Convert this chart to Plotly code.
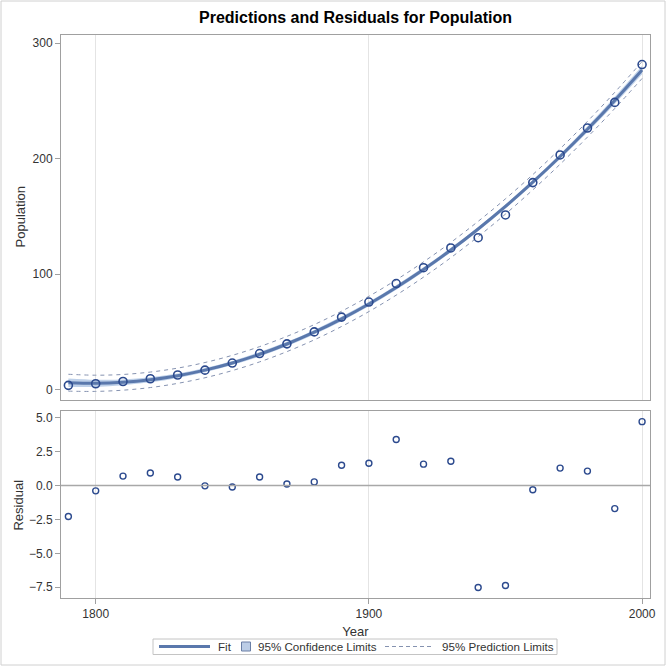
import plotly.graph_objects as go

years = [1790, 1800, 1810, 1820, 1830, 1840, 1850, 1860, 1870, 1880, 1890,
         1900, 1910, 1920, 1930, 1940, 1950, 1960, 1970, 1980, 1990, 2000]
population = [3.929, 5.308, 7.239, 9.638, 12.866, 17.069, 23.191, 31.443, 39.818, 50.155, 62.947,
              75.994, 91.972, 105.710, 122.775, 131.669, 151.325, 179.323, 203.211, 226.542, 248.710, 281.422]
residuals = [-2.28, -0.39, 0.70, 0.93, 0.63, -0.02, -0.10, 0.63, 0.12, 0.27, 1.50,
             1.65, 3.40, 1.58, 1.80, -7.53, -7.38, -0.31, 1.29, 1.07, -1.70, 4.72]
cl_half = [3.7, 3.1, 2.5, 2.2, 1.9, 1.8, 1.8, 1.9, 1.9, 2.0, 2.0,
           2.0, 2.0, 1.9, 1.9, 1.8, 1.8, 1.9, 2.2, 2.5, 3.1, 3.7]
pl_half = [7.3, 7.0, 6.8, 6.7, 6.6, 6.6, 6.6, 6.6, 6.6, 6.6, 6.6,
           6.6, 6.6, 6.6, 6.6, 6.6, 6.6, 6.6, 6.7, 6.8, 7.0, 7.3]
legend_labels = ["Fit", "95% Confidence Limits", "95% Prediction Limits"]

fit = [p - r for p, r in zip(population, residuals)]
cl_lo = [f - h for f, h in zip(fit, cl_half)]
cl_hi = [f + h for f, h in zip(fit, cl_half)]
pl_lo = [f - h for f, h in zip(fit, pl_half)]
pl_hi = [f + h for f, h in zip(fit, pl_half)]

FIT_C = "#5A78AC"
MARK_C = "#2C4A8E"
BAND_C = "rgba(170,193,226,0.75)"
PL_C = "#8592B0"
AX_C = "#A0A0A0"
FONT = "Liberation Sans, Arial, sans-serif"

# plot-area geometry (pixels in the 666x666 page)
L, R, T, B = 61, 16, 35, 68
PW, PH = 666 - L - R, 666 - T - B


def px(x):
    return (x - L) / PW


def py(y):
    return (666 - B - y) / PH


fig = go.Figure()
fig.add_trace(go.Scatter(x=years, y=cl_lo, mode="lines", line=dict(width=0, shape="spline"),
                         showlegend=False, hoverinfo="skip", xaxis="x", yaxis="y"))
fig.add_trace(go.Scatter(x=years, y=cl_hi, mode="lines", line=dict(width=0, shape="spline"),
                         fill="tonexty", fillcolor=BAND_C, showlegend=False,
                         xaxis="x", yaxis="y"))
fig.add_trace(go.Scatter(x=years, y=pl_lo, mode="lines",
                         line=dict(color=PL_C, width=1, dash="4px,4px", shape="spline"),
                         showlegend=False, xaxis="x", yaxis="y"))
fig.add_trace(go.Scatter(x=years, y=pl_hi, mode="lines",
                         line=dict(color=PL_C, width=1, dash="4px,4px", shape="spline"),
                         showlegend=False, xaxis="x", yaxis="y"))
fig.add_trace(go.Scatter(x=years, y=fit, mode="lines",
                         line=dict(color=FIT_C, width=3, shape="spline"),
                         showlegend=False, xaxis="x", yaxis="y"))
fig.add_trace(go.Scatter(x=years, y=population, mode="markers",
                         marker=dict(symbol="circle-open", size=8, color=MARK_C, line=dict(width=1.6)),
                         showlegend=False, xaxis="x", yaxis="y"))
fig.add_trace(go.Scatter(x=years, y=residuals, mode="markers",
                         marker=dict(symbol="circle-open", size=6, color=MARK_C, line=dict(width=1.4)),
                         showlegend=False, xaxis="x2", yaxis="y2"))

xrange = [1787.3, 2002.9]
common_x = dict(range=xrange, showgrid=True, gridcolor="#E4E4E4", gridwidth=1,
                tickvals=[1800, 1900, 2000], zeroline=False, showline=True, linecolor=AX_C,
                mirror=True, ticklen=5, tickcolor=AX_C, automargin=False,
                tickfont=dict(size=12, color="#333333", family=FONT))
common_y = dict(showgrid=False, zeroline=False, showline=True, linecolor=AX_C, mirror=True,
                ticks="outside", ticklen=5, tickcolor=AX_C, automargin=False,
                tickfont=dict(size=12, color="#333333", family=FONT))

# hand-built legend (SAS style)
ly = 646.5
shapes = [
    dict(type="line", xref="x2", yref="y2", x0=xrange[0], x1=xrange[1], y0=0, y1=0,
         line=dict(color="#A8A8A8", width=1.5)),
    dict(type="rect", xref="paper", yref="paper", x0=px(1), x1=px(665), y0=py(665), y1=py(1),
         line=dict(color="#D0D0D0", width=1), layer="below"),
    dict(type="rect", xref="paper", yref="paper", x0=px(153), x1=px(557), y0=py(654.5), y1=py(639),
         line=dict(color="#C4C4C4", width=1), fillcolor="white"),
    dict(type="line", xref="paper", yref="paper", x0=px(159), x1=px(210), y0=py(ly), y1=py(ly),
         line=dict(color=FIT_C, width=3)),
    dict(type="rect", xref="paper", yref="paper", x0=px(241.5), x1=px(250.5), y0=py(651), y1=py(642),
         line=dict(color="#6A7FA6", width=1), fillcolor="#BCCDE6"),
    dict(type="line", xref="paper", yref="paper", x0=px(385), x1=px(434), y0=py(ly), y1=py(ly),
         line=dict(color=PL_C, width=1, dash="4px,3px")),
]
annotations = [
    dict(text=legend_labels[0], x=px(216), y=py(ly), xanchor="left"),
    dict(text=legend_labels[1], x=px(256), y=py(ly), xanchor="left"),
    dict(text=legend_labels[2], x=px(440), y=py(ly), xanchor="left"),
]
for a in annotations:
    a.update(xref="paper", yref="paper", yanchor="middle", showarrow=False,
             font=dict(size=11.6, family=FONT, color="#333333"))
annotations += [
    dict(text="Population", x=px(20), y=(0.352 + 1) / 2, xref="paper", yref="paper",
         textangle=-90, showarrow=False, xanchor="center", yanchor="middle",
         font=dict(size=13, family=FONT, color="#333333")),
    dict(text="Residual", x=px(19), y=0.332 / 2, xref="paper", yref="paper",
         textangle=-90, showarrow=False, xanchor="center", yanchor="middle",
         font=dict(size=13, family=FONT, color="#333333")),
]

fig.update_layout(
    width=666, height=666,
    paper_bgcolor="white", plot_bgcolor="white",
    margin=dict(l=L, r=R, t=T, b=B, autoexpand=False),
    font=dict(family=FONT, color="#333333"),
    showlegend=False,
    title=dict(text="<b>Predictions and Residuals for Population</b>", x=0.5, xanchor="center",
               xref="paper", y=0.983, yanchor="top", font=dict(size=16, color="black", family=FONT)),
    xaxis=dict(**common_x, domain=[0, 1], anchor="y", showticklabels=False, ticks=""),
    yaxis=dict(**common_y, domain=[0.352, 1], range=[-8.6, 307], tickvals=[0, 100, 200, 300]),
    xaxis2=dict(**common_x, domain=[0, 1], anchor="y2", matches="x", ticks="outside",
                title=dict(text="Year", font=dict(size=13, family=FONT), standoff=6)),
    yaxis2=dict(**common_y, domain=[0, 0.332], range=[-8.3, 5.5],
                tickvals=[-7.5, -5.0, -2.5, 0.0, 2.5, 5.0], tickformat=".1f"),
    shapes=shapes,
    annotations=annotations,
)

fig.write_html("out.html", config={"displayModeBar": False},
               post_script="document.body.style.margin='0';")
